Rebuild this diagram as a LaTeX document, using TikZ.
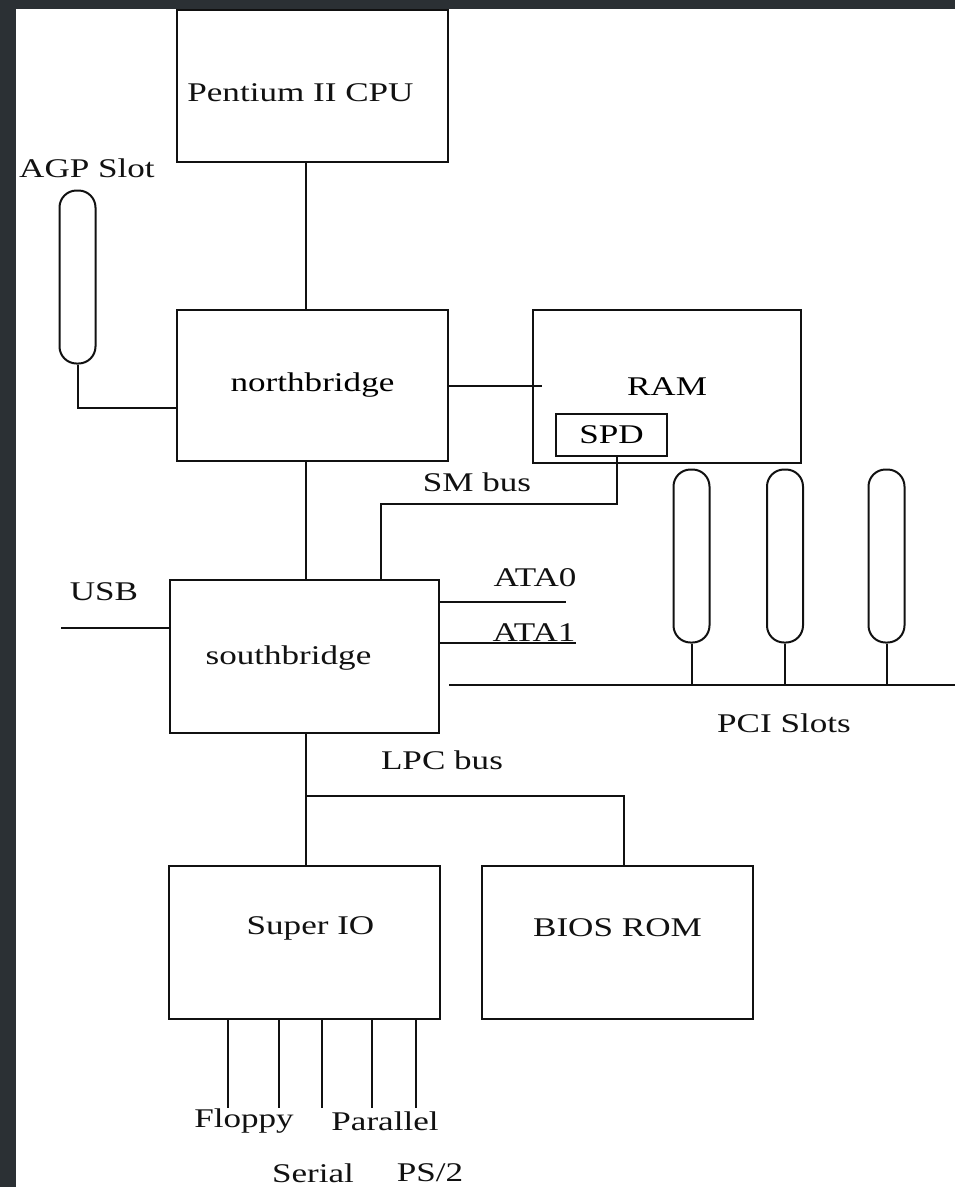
\documentclass[tikz,border=0pt]{standalone}
\usepackage{fontspec}
\usetikzlibrary{positioning, calc}
\newfontfamily\diagfont[FakeStretch=1.3]{Liberation Serif}
\definecolor{frame}{HTML}{2B3034}
\definecolor{ink}{HTML}{111111}

\tikzset{
  unit/.style={draw=ink, line width=2pt, inner sep=0pt, font=\diagfont\fontsize{27}{30}\selectfont},
  slot/.style={draw=ink, line width=2pt, rounded corners=17pt, minimum width=36pt, minimum height=173pt},
  tag/.style={text=ink, inner sep=0pt, font=\diagfont\fontsize{27}{30}\selectfont},
  wire/.style={ink, line width=2pt}
}

\begin{document}
\begin{tikzpicture}[x=1pt, y=-1pt]

% Background
\useasboundingbox (0,0) rectangle (955,1187);
\fill[frame] (0,0) rectangle (955,1187);
\fill[white] (16,9) rectangle (955,1187);

%% Chips
\node[unit, minimum width=271, minimum height=152,
  label={[tag, xshift=-12pt, yshift=-7pt]center:Pentium II CPU}] (cpu) at (312.5,86) {};
\node[unit, minimum width=271, minimum height=151] (nb) at (312.5,385.5) {northbridge};
\node[unit, minimum width=268, minimum height=153] (ram) at (667,386.5) {RAM};
\node[unit, minimum width=111, minimum height=42] (spd) at (611.5,435) {SPD};
\node[unit, minimum width=269, minimum height=153,
  label={[tag, xshift=-16pt, yshift=-2pt]center:southbridge}] (sb) at (304.5,656.5) {};
\node[unit, minimum width=271, minimum height=153,
  label={[tag, xshift=6pt, yshift=14pt]center:Super IO}] (sio) at (304.5,942.5) {};
\node[unit, minimum width=271, minimum height=153,
  label={[tag, yshift=15pt]center:BIOS ROM}] (bios) at (617.5,942.5) {};

%% Slots
\node[slot] (agp) at (77.5,277) {};
\node[slot] (pci1) at (691.5,556) {};
\node[slot] (pci2) at (785,556) {};
\node[slot] (pci3) at (886.5,556) {};

% Free labels
\node[tag] (agp-lbl) at (87,168) {AGP Slot};
\node[tag] (sm-lbl) at (477,482) {SM bus};
\node[tag] (usb-lbl) at (104,592) {USB};
\node[tag] (ata0-lbl) at (535,578) {ATA0};
\node[tag] (ata1-lbl) at (534,633) {ATA1};
\node[tag] (pci-lbl) at (784,723) {PCI Slots};
\node[tag] (lpc-lbl) at (442,760) {LPC bus};
\node[tag] (floppy-lbl) at (244,1121) {Floppy};
\node[tag] (parallel-lbl) at (385,1121) {Parallel};
\node[tag] (serial-lbl) at (313,1173) {Serial};
\node[tag] (ps2-lbl) at (430,1173) {PS/2};

%% Buses
\coordinate (trunk) at (306,0);
\coordinate (smbus) at (381,504);
\coordinate (usb-end) at (61,628);
\coordinate (ata0-end) at (566,602);
\coordinate (ata1-end) at (576,643);
\coordinate (pci-w) at (449,685);
\coordinate (pci-e) at (955,685);
\coordinate (lpc) at (306,796);
\coordinate (lpc-e) at (624,796);

\draw[wire] (cpu.south -| trunk) -- (nb.north -| trunk);
\draw[wire] (nb.south -| trunk) -- (sb.north -| trunk);
\draw[wire] (sb.south -| trunk) -- (sio.north -| trunk);
\draw[wire] (agp.south) |- ([yshift=-22pt]nb.west);
\draw[wire] (nb.east) -- (nb.east -| ram.west) -- ++(10,0);
\draw[wire] ([xshift=5pt]spd.south) |- (smbus) -- (smbus |- sb.north);
\draw[wire] (usb-end) -- (usb-end -| sb.west);
\draw[wire] (ata0-end -| sb.east) -- (ata0-end);
\draw[wire] (ata1-end -| sb.east) -- (ata1-end);
\draw[wire] (pci-w) -- (pci-e);
\foreach \s in {pci1,pci2,pci3} {
  \draw[wire] (\s.south) -- (\s.south |- pci-w);
}
\draw[wire] (lpc) -- (lpc-e) -- (lpc-e |- bios.north);

% Super IO ports
\foreach \x [count=\i] in {228,279,322,372,416} {
  \coordinate (io\i) at (\x,1108);
  \draw[wire] (io\i |- sio.south) -- (io\i);
}

\end{tikzpicture}
\end{document}
